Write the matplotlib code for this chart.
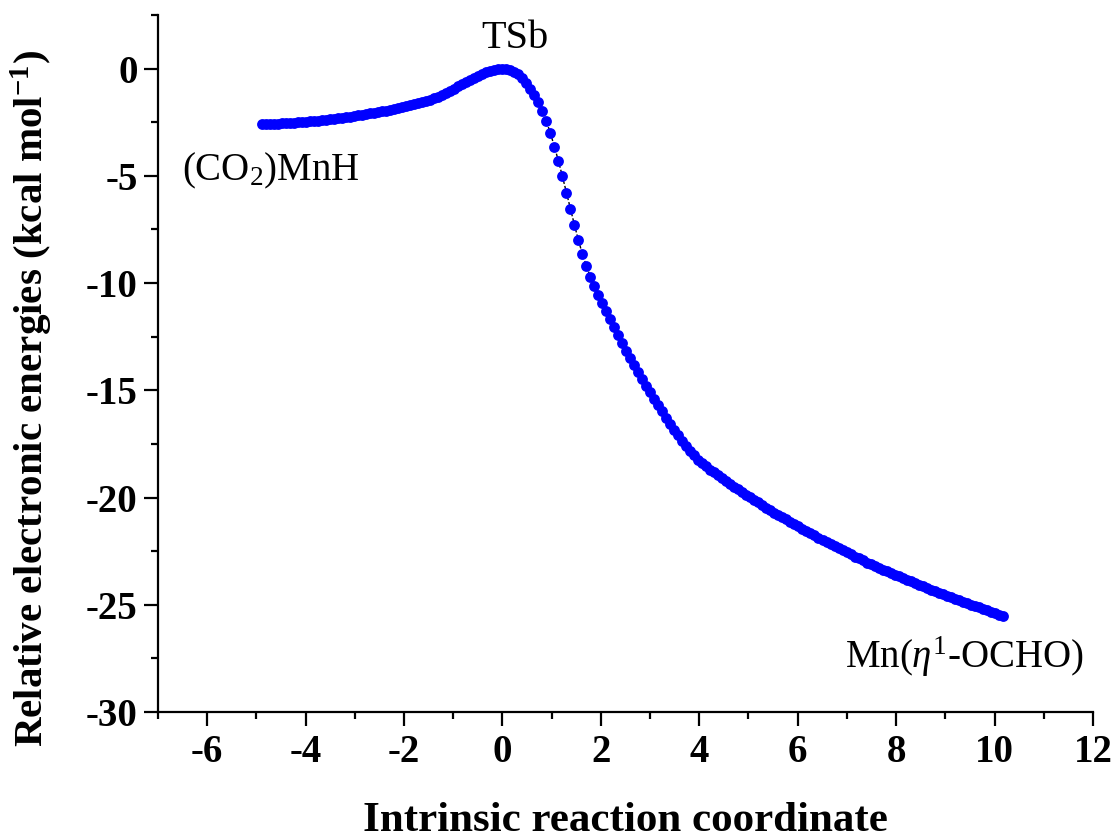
import matplotlib
matplotlib.use("Agg")
import matplotlib.pyplot as plt
import numpy as np
from matplotlib.ticker import MultipleLocator

# IRC profile: points are equally spaced along the reaction coordinate
IRC_STEP = 0.0813
FIRST_INDEX = -60  # index of the reactant-side end point (TS is index 0)

energies = [
    # reactant side, index -60 .. -1
    -2.60, -2.59, -2.58, -2.57, -2.56, -2.55, -2.54, -2.53, -2.52, -2.50,
    -2.49, -2.47, -2.45, -2.44, -2.42, -2.40, -2.38, -2.36, -2.34, -2.31,
    -2.29, -2.26, -2.24, -2.21, -2.18, -2.15, -2.12, -2.09, -2.06, -2.03,
    -1.99, -1.96, -1.92, -1.88, -1.84, -1.80, -1.76, -1.71, -1.66, -1.61,
    -1.56, -1.51, -1.45, -1.38, -1.30, -1.21, -1.12, -1.03, -0.93, -0.83,
    -0.73, -0.63, -0.53, -0.43, -0.34, -0.25, -0.17, -0.10, -0.05, -0.01,
    # TS
    0.00,
    # product side, index 1 .. 125
    -0.02, -0.07, -0.15, -0.27, -0.43, -0.65, -0.93, -1.23, -1.56, -1.98,
    -2.46, -3.02, -3.64, -4.31, -5.03, -5.79, -6.55, -7.29, -8.01, -8.65,
    -9.21, -9.72, -10.15, -10.55, -10.93, -11.30, -11.67, -12.05, -12.42, -12.80,
    -13.15, -13.50, -13.83, -14.15, -14.47, -14.78, -15.09, -15.40, -15.69, -15.98,
    -16.27, -16.55, -16.84, -17.10, -17.37, -17.61, -17.83, -18.04, -18.23, -18.40,
    -18.55, -18.70, -18.83, -18.97, -19.10, -19.23, -19.36, -19.49, -19.62, -19.74,
    -19.86, -19.99, -20.11, -20.23, -20.36, -20.48, -20.59, -20.70, -20.81, -20.92,
    -21.02, -21.13, -21.24, -21.35, -21.45, -21.56, -21.66, -21.76, -21.87, -21.97,
    -22.07, -22.18, -22.28, -22.37, -22.47, -22.56, -22.65, -22.75, -22.84, -22.93,
    -23.03, -23.11, -23.19, -23.27, -23.36, -23.44, -23.52, -23.60, -23.68, -23.76,
    -23.83, -23.91, -23.98, -24.06, -24.13, -24.21, -24.29, -24.36, -24.43, -24.50,
    -24.57, -24.64, -24.71, -24.78, -24.85, -24.92, -24.99, -25.06, -25.12, -25.19,
    -25.26, -25.32, -25.39, -25.46, -25.52,
]

labels = ["TSb", r"(CO$_2$)MnH", r"Mn($\eta^1$-OCHO)"]
label_pos = [(0.26, 0.95), (-6.52, -5.2), (6.97, -27.95)]

irc = IRC_STEP * (FIRST_INDEX + np.arange(len(energies)))

plt.rcParams["font.family"] = ["Liberation Serif", "DejaVu Serif"]
plt.rcParams["mathtext.fontset"] = "custom"
plt.rcParams["mathtext.rm"] = "Liberation Serif"
plt.rcParams["mathtext.it"] = "Liberation Serif:italic"
plt.rcParams["mathtext.bf"] = "Liberation Serif:bold"
plt.rcParams["axes.unicode_minus"] = False

fig = plt.figure(figsize=(11.18, 8.39), dpi=100)
ax = fig.add_axes([0.1413, 0.1514, 0.8363, 0.8307])

ax.plot(irc, energies, color="black", linewidth=1.0, linestyle=(0, (2.5, 1.5)),
        marker="o", markersize=7.8, markerfacecolor="#0000ff",
        markeredgecolor="#0000ff", markeredgewidth=0, zorder=3)

ax.text(label_pos[0][0], label_pos[0][1], labels[0], fontsize=29,
        ha="center", va="baseline")
ax.text(label_pos[1][0], label_pos[1][1], labels[1], fontsize=28,
        ha="left", va="baseline")
ax.text(label_pos[2][0], label_pos[2][1], labels[2], fontsize=28,
        ha="left", va="baseline")

ax.set_xlim(-7, 12)
ax.set_ylim(-30, 2.5)
ax.xaxis.set_major_locator(MultipleLocator(2))
ax.xaxis.set_minor_locator(MultipleLocator(1))
ax.yaxis.set_major_locator(MultipleLocator(5))
ax.yaxis.set_minor_locator(MultipleLocator(2.5))

for s in ("top", "right"):
    ax.spines[s].set_visible(False)
for s in ("left", "bottom"):
    ax.spines[s].set_linewidth(1.6)

ax.tick_params(which="major", direction="out", length=10, width=1.6,
               labelsize=28, pad=4.5)
ax.tick_params(which="minor", direction="out", length=5, width=1.6)
ax.tick_params(axis="x", which="major", pad=6)
for lbl in ax.get_xticklabels() + ax.get_yticklabels():
    lbl.set_fontweight("bold")

ax.set_xlabel("Intrinsic reaction coordinate", fontsize=31,
              fontweight="bold", labelpad=22)
ax.set_ylabel(r"Relative electronic energies (kcal mol$^{\mathbf{-1}}$)",
              fontsize=29.5, fontweight="bold")
ax.yaxis.set_label_coords(-0.110, 0.4505)

fig.savefig("out.png", dpi=100, facecolor="white")
plt.close(fig)
